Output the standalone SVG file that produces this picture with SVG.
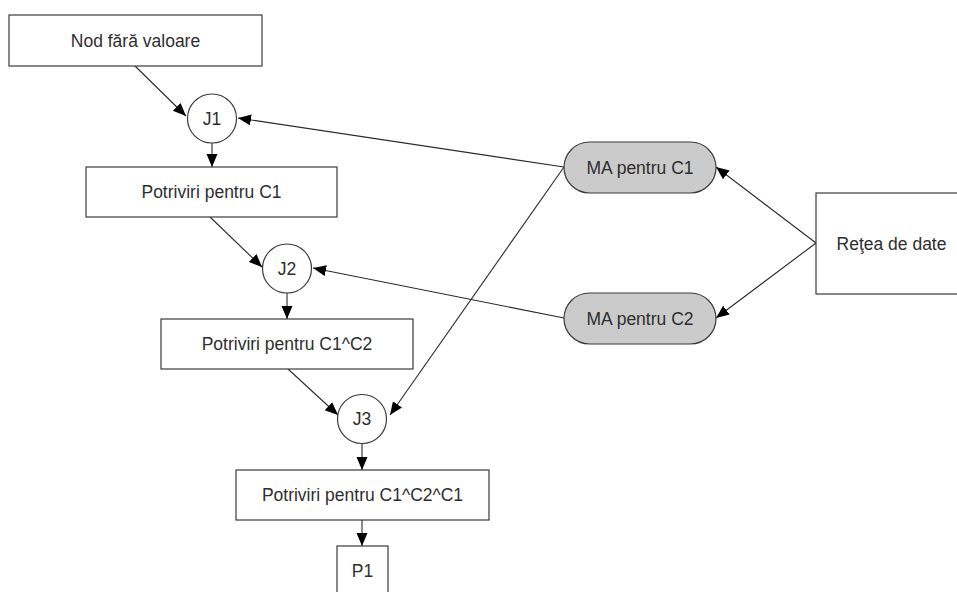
<svg xmlns="http://www.w3.org/2000/svg" width="957" height="592" viewBox="0 0 957 592">
  <style>
    .box { fill: #ffffff; stroke: #3a3a3a; stroke-width: 1.2; }
    .join { fill: #ffffff; stroke: #3a3a3a; stroke-width: 1.2; }
    .mem { fill: #cbcbcb; stroke: #3a3a3a; stroke-width: 1.2; }
    .lbl { font-family: "Liberation Sans", Arial, sans-serif; font-size: 17.5px; fill: #2e2e2e; text-anchor: middle; }
    .edge { fill: none; stroke: #2a2a2a; stroke-width: 1.1; marker-end: url(#arrow); }
  </style>
  <defs>
    <marker id="arrow" markerUnits="userSpaceOnUse" markerWidth="14" markerHeight="12" refX="13" refY="5.5" orient="auto">
      <path d="M0,0 L13,5.5 L0,11 z" fill="#000000"/>
    </marker>
  </defs>
  <rect width="957" height="592" fill="#ffffff"/>

  <g id="connectors">
    <line class="edge" x1="135" y1="66" x2="186" y2="116"/>
    <line class="edge" x1="212" y1="143" x2="212" y2="167"/>
    <line class="edge" x1="210" y1="217" x2="262" y2="267"/>
    <line class="edge" x1="287" y1="293" x2="287" y2="319"/>
    <line class="edge" x1="288" y1="369" x2="338" y2="415"/>
    <line class="edge" x1="362" y1="443" x2="362" y2="470"/>
    <line class="edge" x1="362" y1="520" x2="362" y2="546"/>
    <line class="edge" x1="564" y1="167" x2="238" y2="118"/>
    <line class="edge" x1="564" y1="167" x2="390" y2="415"/>
    <line class="edge" x1="564" y1="318" x2="313" y2="268"/>
    <line class="edge" x1="816" y1="243" x2="716" y2="167"/>
    <line class="edge" x1="816" y1="243" x2="716" y2="318"/>
  </g>

  <g id="nod-fara-valoare">
    <rect class="box" x="9" y="15" width="253" height="51"/>
    <text class="lbl" x="135.5" y="46.5">Nod fără valoare</text>
  </g>
  <g id="j1">
    <circle class="join" cx="212" cy="118.5" r="24.5"/>
    <text class="lbl" x="212" y="124.5">J1</text>
  </g>
  <g id="potriviri-c1">
    <rect class="box" x="86" y="167" width="251" height="50"/>
    <text class="lbl" x="211.5" y="198">Potriviri pentru C1</text>
  </g>
  <g id="j2">
    <circle class="join" cx="287" cy="268.5" r="24.5"/>
    <text class="lbl" x="287" y="274.5">J2</text>
  </g>
  <g id="potriviri-c1-c2">
    <rect class="box" x="161" y="319" width="252" height="50"/>
    <text class="lbl" x="287" y="350">Potriviri pentru C1^C2</text>
  </g>
  <g id="j3">
    <circle class="join" cx="362" cy="419" r="24.5"/>
    <text class="lbl" x="362" y="425">J3</text>
  </g>
  <g id="potriviri-c1-c2-c1">
    <rect class="box" x="236" y="470" width="253" height="50"/>
    <text class="lbl" x="362.5" y="501">Potriviri pentru C1^C2^C1</text>
  </g>
  <g id="p1">
    <rect class="box" x="337" y="546" width="51" height="50"/>
    <text class="lbl" x="362.5" y="577">P1</text>
  </g>
  <g id="ma-c1">
    <rect class="mem" x="564" y="142" width="152" height="51" rx="25.5" ry="25.5"/>
    <text class="lbl" x="640" y="173.5">MA pentru C1</text>
  </g>
  <g id="ma-c2">
    <rect class="mem" x="564" y="293" width="152" height="51" rx="25.5" ry="25.5"/>
    <text class="lbl" x="640" y="324.5">MA pentru C2</text>
  </g>
  <g id="retea-de-date">
    <rect class="box" x="816" y="193" width="160" height="101"/>
    <text class="lbl" x="891.5" y="249.5">Reţea de date</text>
  </g>
</svg>
